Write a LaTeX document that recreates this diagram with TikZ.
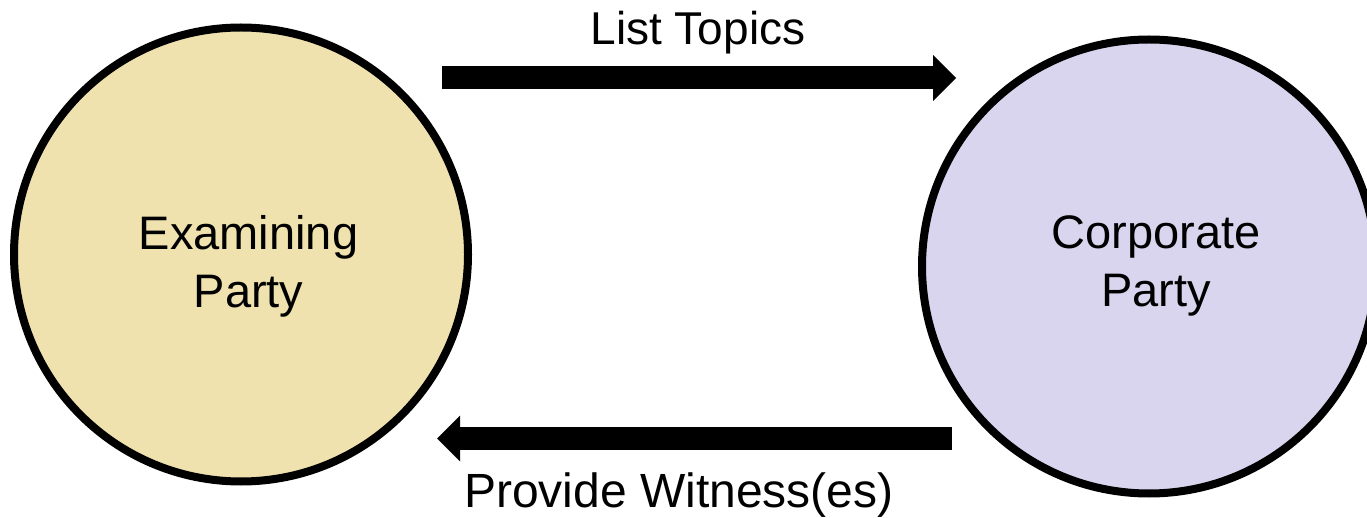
\documentclass[tikz,border=0pt]{standalone}
\usepackage{fontspec}
\setmainfont{Liberation Sans}
\usetikzlibrary{arrows.meta}
\definecolor{examfill}{HTML}{EFE2AE}
\definecolor{corpfill}{HTML}{D9D5EE}
\begin{document}
\begin{tikzpicture}[
  x=1pt, y=-1pt,
  party/.style={circle, draw=black, line width=8pt, minimum size=454pt, inner sep=0pt},
  partytext/.style={align=center, font=\fontsize{47}{58}\selectfont, inner sep=0pt},
  flow/.style={line width=23pt, -{Triangle[length=23pt, width=46pt, line width=0pt]}},
  flowlabel/.style={font=\fontsize{47}{56}\selectfont, anchor=base, inner sep=0pt}]
  \useasboundingbox (0,0) rectangle (1367,518);
  % the two parties
  \node[party, fill=examfill] (exam) at (241,254.5) {};
  \node[partytext] (examtext) at (248.5,266) {Examining\\Party};
  \node[party, fill=corpfill] (corp) at (1149,266.5) {};
  \node[partytext] (corptext) at (1156,266) {Corporate\\Party};
  % top flow: topics
  \coordinate (topics-from) at (442,78);
  \coordinate (topics-to) at (956,78);
  \draw[flow] (topics-from) -- (topics-to);
  \node[flowlabel, font=\fontsize{46}{56}\selectfont] (topics) at (698,44.3) {List Topics};
  % bottom flow: witnesses
  \coordinate (witness-from) at (952,438.5);
  \coordinate (witness-to) at (437,438.5);
  \draw[flow] (witness-from) -- (witness-to);
  \node[flowlabel, font=\fontsize{48}{56}\selectfont] (witness) at (679,507.5) {Provide Witness(es)};
\end{tikzpicture}
\end{document}
